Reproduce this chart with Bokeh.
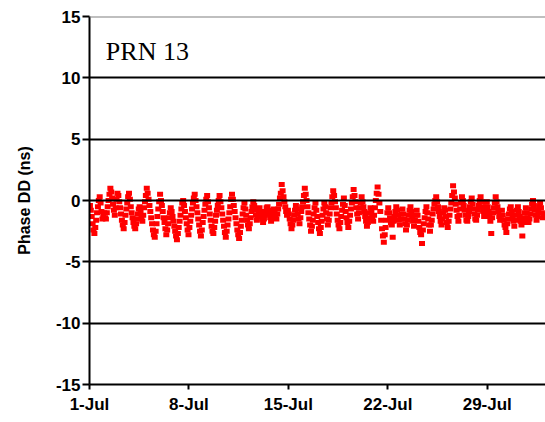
from bokeh.plotting import figure
from bokeh.models import FixedTicker, Span, Label, ColumnDataSource
from bokeh.embed import file_html
from bokeh.resources import INLINE

# Phase double-difference values (ns), 16 samples per day, Jul 1 .. Aug 1
day_values = [
    [-0.4, -0.8, -1.3, -1.9, -2.4, -2.7, -2.2, -1.6, -1.0, -0.5, 0.0, 0.3, -0.2, -0.9, -1.5, -1.2],
    [-1.0, -1.4, -1.5, -1.0, -0.5, 0.0, 0.5, 1.0, 0.7, 0.2, -0.3, -0.8, -1.2, -0.6, 0.1, 0.6],
    [0.4, -0.1, -0.6, -1.1, -1.6, -2.0, -2.3, -1.8, -1.2, -0.7, -0.2, 0.3, 0.6, 0.1, -0.5, -1.0],
    [-1.4, -1.8, -2.1, -2.3, -1.9, -1.5, -1.1, -0.7, -0.5, -0.9, -1.3, -1.7, -1.2, -0.6, -0.1, 0.4],
    [1.0, 0.6, 0.1, -0.4, -0.9, -1.4, -1.9, -2.4, -2.8, -3.0, -2.5, -1.9, -1.3, -0.7, -0.1, 0.5],
    [0.0, -0.4, -0.9, -1.4, -1.8, -2.3, -2.8, -2.4, -1.9, -1.4, -1.0, -0.6, -0.9, -1.3, -1.7, -2.1],
    [-2.5, -2.9, -3.2, -2.7, -2.2, -1.7, -1.2, -0.7, -0.2, 0.0, -0.4, -0.9, -1.4, -1.9, -2.4, -2.8],
    [-2.2, -1.7, -1.2, -0.7, -0.2, 0.2, 0.5, 0.0, -0.5, -1.0, -1.5, -2.0, -2.5, -2.9, -2.4, -1.8],
    [-1.3, -0.8, -0.3, 0.1, 0.4, -0.1, -0.6, -1.1, -1.6, -2.1, -2.5, -2.7, -2.2, -1.7, -1.2, -0.8],
    [-0.4, 0.0, 0.4, -0.1, -0.6, -1.1, -1.6, -2.1, -2.6, -3.0, -2.5, -2.0, -1.5, -1.0, -0.5, 0.1],
    [0.5, 0.1, -0.4, -0.9, -1.4, -1.9, -2.4, -2.8, -3.1, -2.6, -2.1, -1.6, -1.1, -0.6, -0.2, -0.7],
    [-1.2, -1.6, -2.0, -2.3, -1.9, -1.4, -0.9, -0.5, -0.1, -0.4, -0.8, -1.2, -1.6, -1.3, -0.9, -0.6],
    [-0.9, -1.2, -1.5, -1.8, -1.5, -1.2, -0.9, -0.6, -0.5, -0.8, -1.1, -1.4, -1.7, -1.3, -1.0, -0.7],
    [-1.0, -1.3, -1.5, -1.1, -0.7, -0.3, 0.2, 0.6, 1.3, 0.8, 0.3, -0.1, -0.5, -0.9, -1.2, -0.8],
    [-1.1, -1.5, -1.9, -2.3, -2.0, -1.6, -1.2, -0.8, -0.4, -0.7, -1.1, -1.5, -1.9, -1.4, -0.9, -0.5],
    [-0.1, 0.4, 1.0, 0.5, 0.0, -0.5, -1.0, -1.5, -2.0, -2.5, -2.1, -1.6, -1.1, -0.6, -0.2, -0.8],
    [-1.3, -1.8, -2.3, -2.7, -2.2, -1.7, -1.2, -0.7, -0.2, -0.5, -1.0, -1.5, -2.0, -1.6, -1.1, -0.6],
    [-0.2, 0.3, 0.8, 0.4, -0.1, -0.6, -1.1, -1.6, -2.0, -2.3, -1.8, -1.3, -0.8, -0.3, 0.2, -0.4],
    [-0.9, -1.4, -1.8, -2.2, -1.7, -1.2, -0.7, -0.2, 0.3, 0.9, 0.4, -0.1, -0.6, -1.1, -1.5, -1.0],
    [-0.6, -0.2, 0.3, -0.1, -0.5, -0.9, -1.3, -1.7, -2.1, -1.8, -1.4, -1.0, -0.6, -0.9, -1.3, -1.7],
    [-1.2, -0.6, 0.0, 0.6, 1.1, 0.5, -0.2, -0.9, -1.6, -2.3, -2.9, -3.4, -2.8, -2.2, -1.6, -1.0],
    [-0.6, -1.0, -1.4, -1.8, -2.0, -3.0, -1.7, -1.3, -0.9, -0.5, -0.8, -1.2, -1.6, -2.0, -1.5, -1.1],
    [-0.7, -1.1, -1.5, -1.9, -2.4, -2.0, -1.6, -1.2, -0.8, -0.5, -0.9, -1.3, -1.7, -2.1, -1.6, -1.2],
    [-0.8, -1.2, -1.7, -2.2, -2.6, -2.8, -3.5, -2.4, -1.9, -1.4, -0.9, -0.5, -1.0, -1.5, -2.0, -2.5],
    [-2.0, -1.6, -1.1, -0.7, -0.3, 0.0, 0.3, -0.1, -0.5, -0.9, -1.3, -1.7, -2.0, -1.5, -1.0, -0.6],
    [-0.8, -1.3, -1.8, -2.2, -1.7, -1.2, -0.7, -0.2, 0.4, 1.2, 0.7, 0.2, -0.3, -0.8, -1.3, -1.7],
    [-1.2, -0.7, -0.2, 0.3, 0.0, -0.4, -0.8, -1.2, -1.6, -1.7, -1.3, -0.9, -0.5, -0.1, 0.2, -0.3],
    [-0.7, -1.1, -1.5, -1.6, -1.2, -0.8, -0.4, 0.0, 0.3, -0.1, -0.5, -0.9, -1.3, -0.9, -0.5, -0.1],
    [-0.5, -0.9, -1.3, -1.7, -2.7, -1.4, -1.0, -0.6, -0.2, 0.3, -0.1, -0.5, -0.9, -1.3, -1.6, -1.2],
    [-0.8, -1.2, -1.6, -2.0, -2.2, -2.6, -1.9, -1.5, -1.1, -0.7, -0.5, -0.9, -1.3, -1.7, -2.1, -1.6],
    [-1.2, -0.8, -0.5, -0.9, -1.3, -1.7, -2.0, -2.9, -1.8, -1.4, -1.0, -0.6, -1.0, -1.4, -1.8, -1.5],
    [-1.1, -0.7, -0.3, 0.0, -0.4, -0.8, -1.2, -1.6, -1.3, -0.9, -0.5, -0.2, -0.6, -1.0, -1.4, -1.1],
]
tick_days = [0, 7, 14, 21, 28]
tick_labels = ["1-Jul", "8-Jul", "15-Jul", "22-Jul", "29-Jul"]
y_ticks = [-15, -10, -5, 0, 5, 10, 15]
y_tick_labels = ["-15", "-10", "-5", "0", "5", "10", "15"]
panel_label = "PRN 13"

t = []
v = []
for d, vals in enumerate(day_values):
    n = len(vals)
    for k, val in enumerate(vals):
        t.append(d + (k + 0.5) / n)
        v.append(val)
src = ColumnDataSource(dict(t=t, v=v))

p = figure(width=545, height=416, x_range=(0, 32.1), y_range=(-15, 15),
           output_backend="svg", toolbar_location=None,
           min_border_left=89, min_border_right=0, min_border_top=16,
           min_border_bottom=32)
p.outline_line_color = None
p.background_fill_color = "white"

p.rect(x="t", y="v", width=6, height=5, width_units="screen", height_units="screen",
       source=src, fill_color="#ff0000", line_color=None)

# axes
p.xaxis.ticker = FixedTicker(ticks=tick_days)
p.xaxis.major_label_overrides = {d: l for d, l in zip(tick_days, tick_labels)}
p.yaxis.ticker = FixedTicker(ticks=y_ticks)
p.yaxis.major_label_overrides = {d: l for d, l in zip(y_ticks, y_tick_labels)}
for ax in (p.xaxis, p.yaxis):
    ax.axis_line_color = "black"
    ax.axis_line_width = 2
    ax.major_tick_line_color = "black"
    ax.major_tick_line_width = 2
    ax.major_tick_in = 0
    ax.major_tick_out = 7
    ax.minor_tick_line_color = None
    ax.major_label_text_font = "Liberation Sans"
    ax.major_label_text_font_style = "bold"
    ax.major_label_text_font_size = "17px"
    ax.major_label_text_color = "black"
p.xaxis.major_tick_out = 5
p.xaxis.major_label_standoff = 5
p.yaxis.major_label_standoff = 2
p.yaxis.axis_label = "Phase DD (ns)"
p.yaxis.axis_label_text_font = "Liberation Sans"
p.yaxis.axis_label_text_font_style = "bold"
p.yaxis.axis_label_text_font_size = "16px"
p.yaxis.axis_label_text_color = "black"
p.yaxis.axis_label_standoff = 20

p.xgrid.grid_line_color = None
p.ygrid.ticker = FixedTicker(ticks=[-10, -5, 0, 5, 10])
p.ygrid.grid_line_color = "black"
p.ygrid.grid_line_width = 2
p.ygrid.level = "overlay"

p.add_layout(Span(location=15, dimension="width", line_color="#808080", line_width=2))

p.add_layout(Label(x=1.15, y=11.0, text=panel_label, text_font="Liberation Serif",
                   text_font_size="26px", text_color="black"))

open("out.html", "w").write(file_html(p, INLINE))
